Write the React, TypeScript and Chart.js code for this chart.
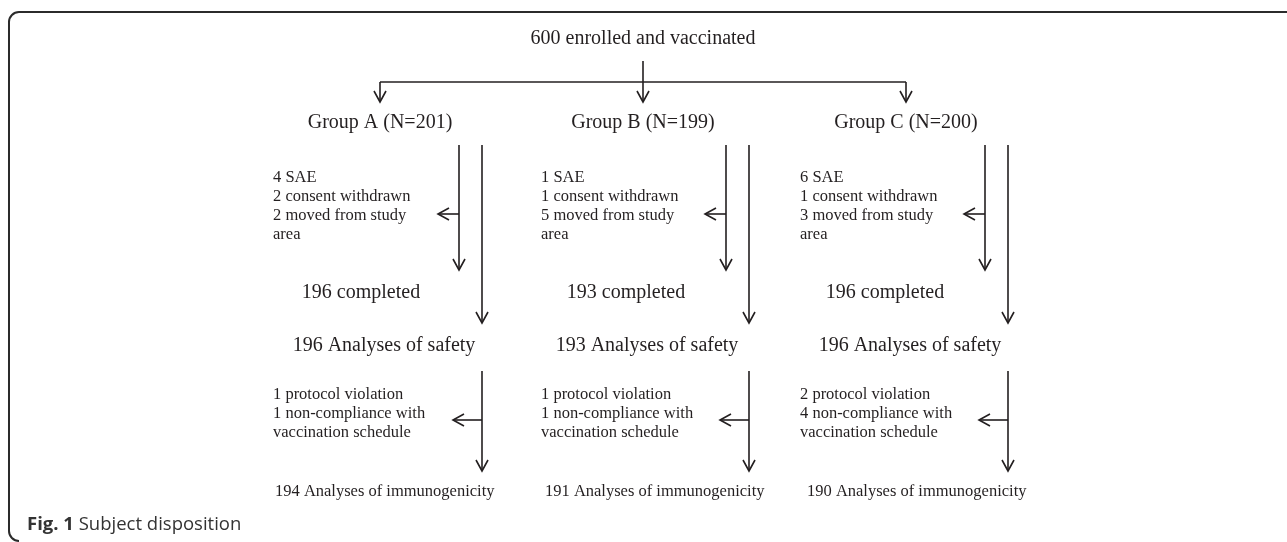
import React, { useEffect, useRef } from "react";
import { Chart, registerables } from "chart.js";
Chart.register(...registerables);

// ---- data ----
const enrolled = 600;
const groupNames = ["Group A", "Group B", "Group C"];
const groupN = [201, 199, 200];
const saeCounts = [4, 1, 6];
const consentWithdrawn = [2, 1, 1];
const movedAway = [2, 5, 3];
const completedCounts = [196, 193, 196];
const safetyCounts = [196, 193, 196];
const protocolViolation = [1, 1, 2];
const nonCompliance = [1, 1, 4];
const immunoCounts = [194, 191, 190];

// ---- layout (scale units = px) ----
const branchX = [380, 643, 906];
const colTextX = [273, 541, 800];
const line1X = [459, 726, 985];
const line2X = [482, 749, 1008];
const completedCX = [361, 626, 885];
const safetyCX = [384, 647, 910];
const immunoX = [275, 545, 807];

const INK = "#231f20";
const SERIF = '"Liberation Serif", "Times New Roman", serif';

export default function App() {
  const ref = useRef<HTMLCanvasElement | null>(null);
  useEffect(() => {
    const canvas = ref.current!;
    const flow = {
      id: "flow",
      afterDraw(chart: any) {
        const ctx = chart.ctx as CanvasRenderingContext2D;
        const xs = chart.scales.x;
        const ys = chart.scales.y;
        const X = (v: number) => xs.getPixelForValue(v);
        const Y = (v: number) => ys.getPixelForValue(v);
        ctx.save();
        ctx.strokeStyle = INK;
        ctx.fillStyle = INK;
        ctx.lineWidth = 1.6;
        ctx.lineCap = "butt";
        const line = (x1: number, y1: number, x2: number, y2: number) => {
          ctx.beginPath();
          ctx.moveTo(X(x1), Y(y1));
          ctx.lineTo(X(x2), Y(y2));
          ctx.stroke();
        };
        const head = (x: number, y: number, dir: "down" | "left") => {
          const px = X(x), py = Y(y);
          ctx.beginPath();
          if (dir === "down") {
            ctx.moveTo(px - 6, py - 11);
            ctx.lineTo(px, py);
            ctx.lineTo(px + 6, py - 11);
          } else {
            ctx.moveTo(px + 11, py - 6);
            ctx.lineTo(px, py);
            ctx.lineTo(px + 11, py + 6);
          }
          ctx.stroke();
        };
        const arrowDown = (x: number, y1: number, y2: number) => {
          line(x, y1, x, y2);
          head(x, y2, "down");
        };
        const arrowLeft = (x1: number, x2: number, y: number) => {
          line(x1, y, x2, y);
          head(x2, y, "left");
        };
        const text = (s: string, x: number, y: number, align: CanvasTextAlign, size: number) => {
          ctx.font = `${size}px ${SERIF}`;
          ctx.textAlign = align;
          ctx.textBaseline = "middle";
          ctx.fillText(s, X(x), Y(y));
        };

        // frame
        ctx.save();
        ctx.lineWidth = 2;
        ctx.strokeStyle = "#2b2b2b";
        const r = 10;
        const fx = 9, fy = 12, fb = 541;
        ctx.beginPath();
        ctx.moveTo(X(1287), Y(fy));
        ctx.lineTo(X(fx + r), Y(fy));
        ctx.arcTo(X(fx), Y(fy), X(fx), Y(fy + r), r);
        ctx.lineTo(X(fx), Y(fb - r));
        ctx.arcTo(X(fx), Y(fb), X(fx + r), Y(fb), r);
        ctx.stroke();
        ctx.restore();

        // top
        text(`${enrolled} enrolled and vaccinated`, branchX[1], 39, "center", 20);
        line(branchX[0], 82, branchX[2], 82);
        arrowDown(branchX[1], 61, 102);
        arrowDown(branchX[0], 82, 102);
        arrowDown(branchX[2], 82, 102);

        for (let i = 0; i < 3; i++) {
          text(`${groupNames[i]} (N=${groupN[i]})`, branchX[i], 123, "center", 20);
          arrowDown(line1X[i], 145, 270);
          arrowDown(line2X[i], 145, 323);
          arrowLeft(line1X[i], line1X[i] - 21, 214);
          const lines1 = [
            `${saeCounts[i]} SAE`,
            `${consentWithdrawn[i]} consent withdrawn`,
            `${movedAway[i]} moved from study`,
            "area",
          ];
          lines1.forEach((s, k) => text(s, colTextX[i], 178 + k * 19, "left", 16.5));
          text(`${completedCounts[i]} completed`, completedCX[i], 293, "center", 20);
          text(`${safetyCounts[i]} Analyses of safety`, safetyCX[i], 346, "center", 20);
          arrowDown(line2X[i], 371, 471);
          arrowLeft(line2X[i], line2X[i] - 29, 420);
          const lines2 = [
            `${protocolViolation[i]} protocol violation`,
            `${nonCompliance[i]} non-compliance with`,
            "vaccination schedule",
          ];
          lines2.forEach((s, k) => text(s, colTextX[i], 395 + k * 19, "left", 16.5));
          text(`${immunoCounts[i]} Analyses of immunogenicity`, immunoX[i], 492, "left", 16.5);
        }

        // caption
        ctx.textAlign = "left";
        ctx.textBaseline = "middle";
        ctx.fillStyle = "#333";
        ctx.font = 'bold 18.5px "Open Sans"';
        const fig = "Fig. 1";
        ctx.fillText(fig, X(27), Y(525));
        const w = ctx.measureText(fig + " ").width;
        ctx.font = '18.5px "Open Sans"';
        ctx.fillText("Subject disposition", X(27) + w, Y(525));
        ctx.restore();
      },
    };
    const chart = new Chart(canvas, {
      type: "scatter",
      data: { datasets: [{ data: [] }] },
      options: {
        animation: false,
        responsive: false,
        maintainAspectRatio: false,
        layout: { padding: 0 },
        plugins: { legend: { display: false }, tooltip: { enabled: false } },
        scales: {
          x: { type: "linear", min: 0, max: 1287, display: false },
          y: { type: "linear", min: 0, max: 542, reverse: true, display: false },
        },
      },
      plugins: [flow],
    });
    return () => chart.destroy();
  }, []);
  return (
    <div style={{ position: "absolute", left: 0, top: 0, width: 1287, height: 542, background: "#fff" }}>
      <canvas ref={ref} width={1287} height={542} />
    </div>
  );
}
